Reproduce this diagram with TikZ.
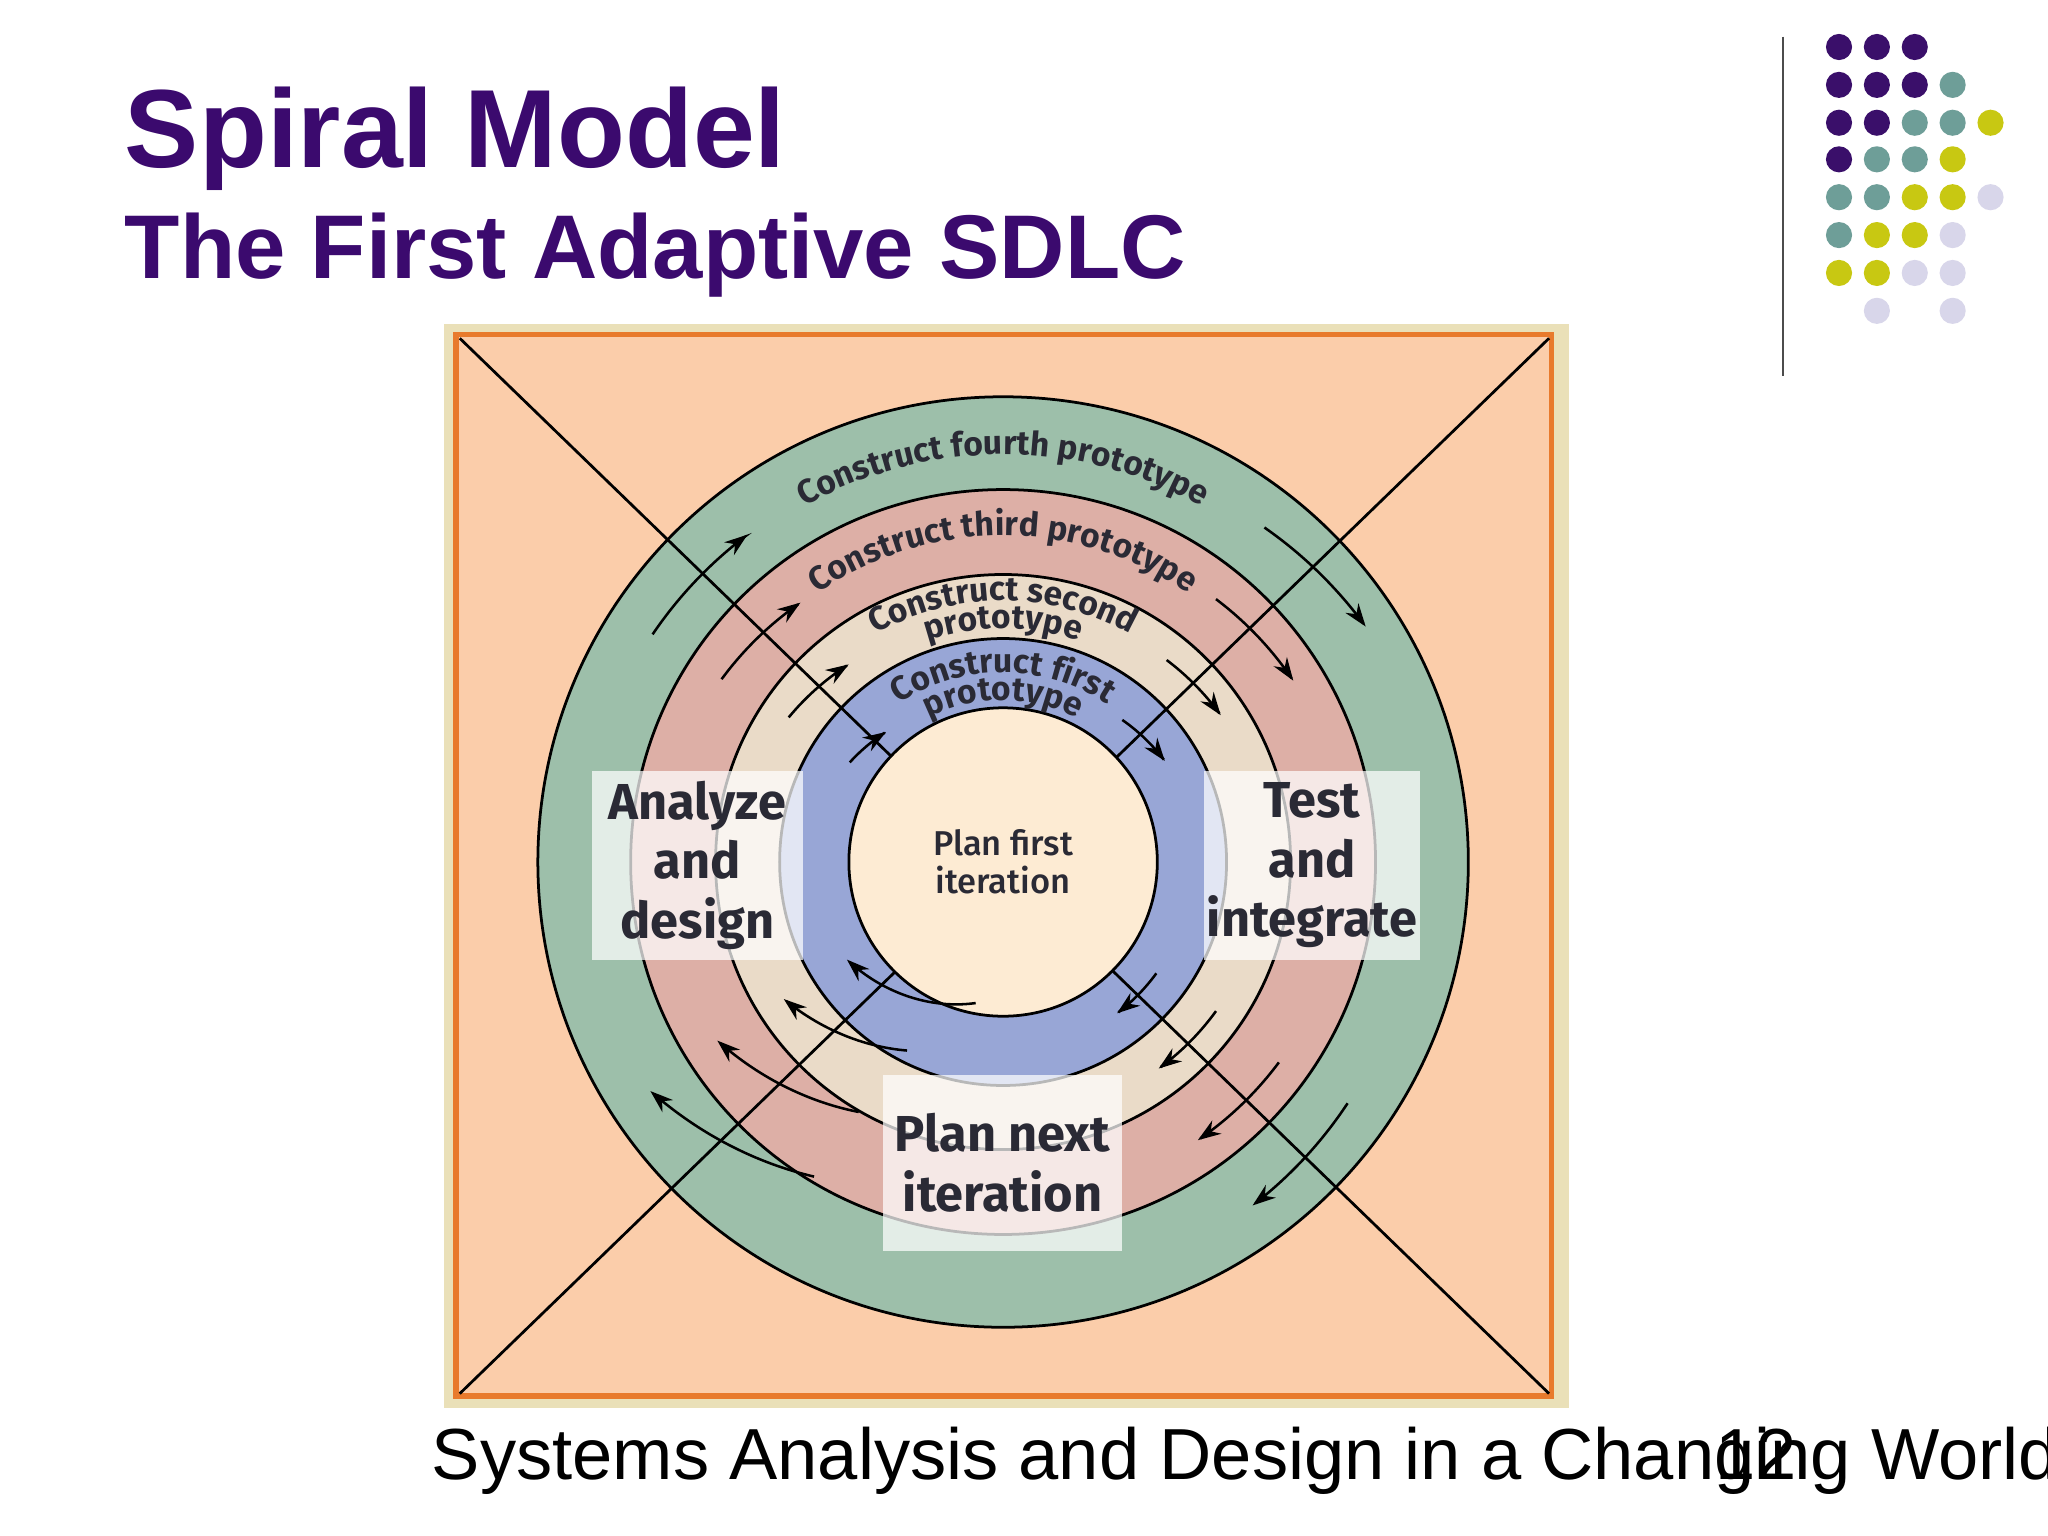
\documentclass[tikz,border=0pt]{standalone}
\usepackage{fontspec}
\setmainfont{Liberation Sans}
\newfontfamily\dinfont{Fira Sans}
\newfontfamily\dinmed{Fira Sans Medium}
\usetikzlibrary{decorations.text,arrows.meta}
\definecolor{ttl}{HTML}{3B0A6E}
\definecolor{dpur}{HTML}{3A0F6A}
\definecolor{dteal}{HTML}{6E9E98}
\definecolor{dyel}{HTML}{C8C812}
\definecolor{dlav}{HTML}{D8D6EA}
\definecolor{rgreen}{HTML}{9DBFAA}
\definecolor{rpink}{HTML}{DDAFA6}
\definecolor{rbeige}{HTML}{EADBC8}
\definecolor{rblue}{HTML}{98A6D6}
\definecolor{rinner}{HTML}{FDEBD3}
\definecolor{bgor}{HTML}{FBCDAA}
\definecolor{bgbe}{HTML}{EAE0B8}
\definecolor{orl}{HTML}{E87A2C}
\definecolor{txt}{HTML}{2A2A35}
\newcommand\sarc[4]{\draw[arr] plot[domain=#1:#3,samples=30,smooth] ({768+(#2+(#4-#2)*(\x-#1)/(#3-#1))*cos(\x)},{516+(#2+(#4-#2)*(\x-#1)/(#3-#1))*sin(\x)});}
\newcommand\ringtext[3]{\path[decorate,decoration={text along path,text align=center,text={|\dinfont\bfseries\fontsize{7.3pt}{8pt}\selectfont\color{txt}|#3}}] ([shift={(#1:#2)}]c) arc[start angle=#1,end angle={180-#1},radius=#2];}
\begin{document}
\begin{tikzpicture}[x=0.01cm,y=0.01cm,
  dot/.style={circle,inner sep=0pt,minimum size=0.2cm,fill=#1},
  ring/.style={draw=black,line width=0.6pt,fill=#1,circle,inner sep=0pt},
  arr/.style={line width=0.55pt,-{Stealth[length=5pt,width=3.5pt]}},
  lbox/.style={fill=white,fill opacity=0.72,text opacity=1,inner sep=0pt,font=\dinfont\bfseries\fontsize{11pt}{13pt}\selectfont,text=txt,align=center}]
\useasboundingbox (0,0) rectangle (1568,1176);
\clip (0,0) rectangle (1568,1176);
\fill[white] (0,0) rectangle (1568,1176);
% title
\node[anchor=base west,inner sep=0pt,text=ttl,font=\bfseries\fontsize{24.2pt}{28pt}\selectfont] (t1) at (95,1048) {Spiral Model};
\node[anchor=base west,inner sep=0pt,text=ttl,font=\bfseries\fontsize{19.7pt}{24pt}\selectfont] (t2) at (95,963) {The First Adaptive SDLC};
% decoration
\coordinate (v1) at (1365,1148); \coordinate (v2) at (1365,888);
\draw[line width=0.5pt,black!70] (v1) -- (v2);
\foreach \c/\x/\y in {dpur/1408/1140,dpur/1437/1140,dpur/1466/1140,
 dpur/1408/1111,dpur/1437/1111,dpur/1466/1111,dteal/1495/1111,
 dpur/1408/1082,dpur/1437/1082,dteal/1466/1082,dteal/1495/1082,dyel/1524/1082,
 dpur/1408/1054,dteal/1437/1054,dteal/1466/1054,dyel/1495/1054,
 dteal/1408/1025,dteal/1437/1025,dyel/1466/1025,dyel/1495/1025,dlav/1524/1025,
 dteal/1408/996,dyel/1437/996,dyel/1466/996,dlav/1495/996,
 dyel/1408/967,dyel/1437/967,dlav/1466/967,dlav/1495/967,
 dlav/1437/938,dlav/1495/938}
 \node[dot=\c] (d\x-\y) at (\x,\y) {};
% frame
\fill[bgbe] (340,98) rectangle (1201,928);
\draw[orl,fill=bgor,line width=1.2pt] (349,107) rectangle (1188,920);
\coordinate (c) at (768,516);
\node[ring=rgreen,minimum size=7.12cm] (rg) at (c) {};
\node[ring=rpink,minimum size=5.70cm] (rp) at (c) {};
\node[ring=rbeige,minimum size=4.40cm] (rb) at (c) {};
\node[ring=rblue,minimum size=3.42cm] (rl) at (c) {};
\coordinate (k1) at (352,917); \coordinate (k2) at (1186,109);
\coordinate (k3) at (1186,917); \coordinate (k4) at (352,109);
\draw[line width=0.6pt] (k1) -- (k2); \draw[line width=0.6pt] (k3) -- (k4);
\node[ring=rinner,minimum size=2.36cm,align=center,font=\dinmed\fontsize{7.5pt}{8.3pt}\selectfont,text=txt] (ri) at (c) {Plan first\\iteration};
% ring texts
\ringtext{150}{312}{Construct fourth prototype}
\ringtext{150}{250}{Construct third prototype}
\ringtext{150}{200}{Construct second}
\ringtext{150}{179}{prototype}
\ringtext{150}{145}{Construct first}
\ringtext{150}{124}{prototype}
% arrows
\sarc{147}{320}{128}{318}
\sarc{147}{257}{128}{252}
\sarc{146}{198}{128}{192}
\sarc{147}{140}{132}{134}
\sarc{52}{325}{33}{331}
\sarc{51}{259}{32}{262}
\sarc{51}{199}{34}{201}
\sarc{50}{142}{32}{146}
\sarc{-35}{322}{-54}{325}
\sarc{-36}{261}{-55}{260}
\sarc{-35}{199}{-53}{198}
\sarc{-36}{145}{-53}{145}
\sarc{-121}{281}{-147}{322}
\sarc{-120}{221}{-148}{258}
\sarc{-117}{162}{-148}{198}
\sarc{-101}{110}{-148}{141}
% label boxes
\node[lbox,minimum width=1.62cm,minimum height=1.45cm] (an) at (534,513.5) {Analyze\\and\\design};
\node[lbox,minimum width=1.65cm,minimum height=1.45cm] (te) at (1004.5,513.5) {Test\\and\\integrate};
\node[lbox,minimum width=1.83cm,minimum height=1.35cm] (pn) at (767.5,285.5) {Plan next\\iteration};
% footer
\node[anchor=base west,inner sep=0pt,font=\fontsize{15.75pt}{19pt}\selectfont] (ft) at (330,43) {Systems Analysis and Design in a Changing World, 6th Edition};
\node[anchor=base west,inner sep=0pt,font=\fontsize{15.75pt}{19pt}\selectfont] (pg) at (1313,43) {12};
\end{tikzpicture}
\end{document}
